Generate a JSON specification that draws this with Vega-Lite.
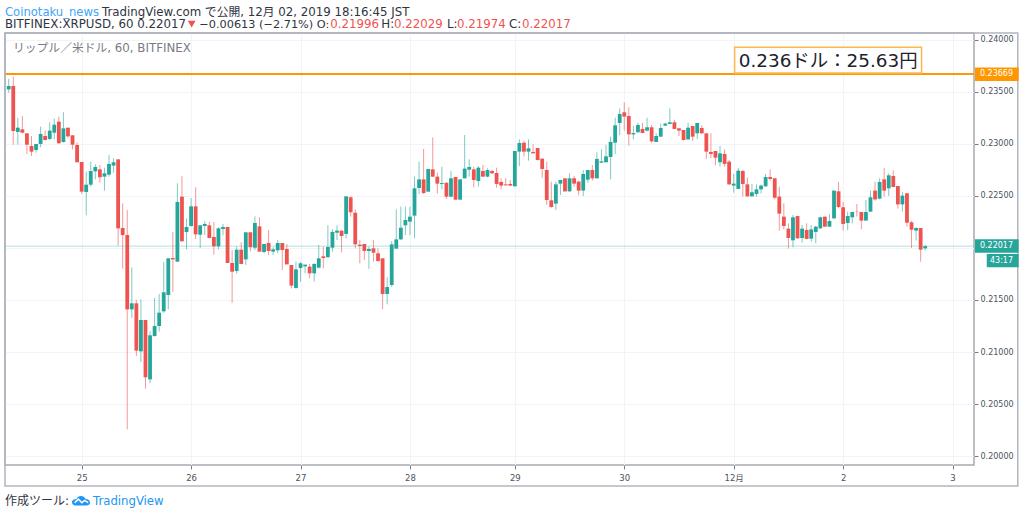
{"$schema":"https://vega.github.io/schema/vega-lite/v6.json","width":969,"height":432,"autosize":"none","padding":{"left":5,"top":33,"right":50,"bottom":49},"background":"white","config":{"view":{"stroke":"#a9abb3","strokeWidth":1.5},"font":"DejaVu Sans, Noto Sans CJK JP"},"datasets":{"candles":[
{"bar":0,"open":0.23522,"high":0.23622,"low":0.23490,"close":0.23554},
{"bar":1,"open":0.23554,"high":0.23644,"low":0.22991,"close":0.23122},
{"bar":2,"open":0.23113,"high":0.23250,"low":0.22991,"close":0.23154},
{"bar":3,"open":0.23138,"high":0.23266,"low":0.23100,"close":0.23106},
{"bar":4,"open":0.23100,"high":0.23100,"low":0.22902,"close":0.22991},
{"bar":5,"open":0.22978,"high":0.23074,"low":0.22882,"close":0.22924},
{"bar":6,"open":0.22940,"high":0.22998,"low":0.22914,"close":0.22998},
{"bar":7,"open":0.22998,"high":0.23164,"low":0.22966,"close":0.23094},
{"bar":8,"open":0.23074,"high":0.23126,"low":0.23030,"close":0.23036},
{"bar":9,"open":0.23046,"high":0.23206,"low":0.23036,"close":0.23126},
{"bar":10,"open":0.23106,"high":0.23241,"low":0.23042,"close":0.23183},
{"bar":11,"open":0.23212,"high":0.23260,"low":0.23004,"close":0.23004},
{"bar":12,"open":0.23017,"high":0.23302,"low":0.23010,"close":0.23148},
{"bar":13,"open":0.23154,"high":0.23154,"low":0.23052,"close":0.23071},
{"bar":14,"open":0.23081,"high":0.23081,"low":0.22946,"close":0.22991},
{"bar":15,"open":0.22988,"high":0.23014,"low":0.22822,"close":0.22822},
{"bar":16,"open":0.22825,"high":0.22825,"low":0.22518,"close":0.22540},
{"bar":17,"open":0.22537,"high":0.22732,"low":0.22313,"close":0.22607},
{"bar":18,"open":0.22607,"high":0.22828,"low":0.22588,"close":0.22738},
{"bar":19,"open":0.22735,"high":0.22802,"low":0.22658,"close":0.22777},
{"bar":20,"open":0.22754,"high":0.22796,"low":0.22626,"close":0.22678},
{"bar":21,"open":0.22684,"high":0.22770,"low":0.22550,"close":0.22716},
{"bar":22,"open":0.22703,"high":0.22892,"low":0.22684,"close":0.22806},
{"bar":23,"open":0.22790,"high":0.22860,"low":0.22722,"close":0.22822},
{"bar":24,"open":0.22850,"high":0.22850,"low":0.22022,"close":0.22188},
{"bar":25,"open":0.22191,"high":0.22428,"low":0.21801,"close":0.22124},
{"bar":26,"open":0.22124,"high":0.22364,"low":0.20258,"close":0.21410},
{"bar":27,"open":0.21410,"high":0.21814,"low":0.21327,"close":0.21468},
{"bar":28,"open":0.21468,"high":0.21500,"low":0.20962,"close":0.21014},
{"bar":29,"open":0.21007,"high":0.21506,"low":0.20905,"close":0.21308},
{"bar":30,"open":0.21308,"high":0.21308,"low":0.20649,"close":0.20758},
{"bar":31,"open":0.20738,"high":0.21199,"low":0.20700,"close":0.21161},
{"bar":32,"open":0.21154,"high":0.21519,"low":0.21148,"close":0.21250},
{"bar":33,"open":0.21250,"high":0.21558,"low":0.21196,"close":0.21378},
{"bar":34,"open":0.21391,"high":0.21865,"low":0.21378,"close":0.21574},
{"bar":35,"open":0.21548,"high":0.21900,"low":0.21410,"close":0.21900},
{"bar":36,"open":0.21903,"high":0.22153,"low":0.21580,"close":0.21890},
{"bar":37,"open":0.21868,"high":0.22620,"low":0.21868,"close":0.22441},
{"bar":38,"open":0.22492,"high":0.22690,"low":0.22063,"close":0.22063},
{"bar":39,"open":0.22153,"high":0.22281,"low":0.21986,"close":0.22201},
{"bar":40,"open":0.22210,"high":0.22479,"low":0.22204,"close":0.22399},
{"bar":41,"open":0.22399,"high":0.22582,"low":0.22086,"close":0.22130},
{"bar":42,"open":0.22127,"high":0.22217,"low":0.22000,"close":0.22217},
{"bar":43,"open":0.22210,"high":0.22258,"low":0.22124,"close":0.22230},
{"bar":44,"open":0.22217,"high":0.22249,"low":0.22092,"close":0.22095},
{"bar":45,"open":0.22105,"high":0.22249,"low":0.21935,"close":0.22015},
{"bar":46,"open":0.22015,"high":0.22198,"low":0.21986,"close":0.22188},
{"bar":47,"open":0.22182,"high":0.22230,"low":0.22124,"close":0.22201},
{"bar":48,"open":0.22201,"high":0.22201,"low":0.21855,"close":0.21855},
{"bar":49,"open":0.21855,"high":0.21980,"low":0.21474,"close":0.21772},
{"bar":50,"open":0.21778,"high":0.22012,"low":0.21756,"close":0.21983},
{"bar":51,"open":0.21983,"high":0.22054,"low":0.21846,"close":0.21846},
{"bar":52,"open":0.21890,"high":0.22150,"low":0.21836,"close":0.22150},
{"bar":53,"open":0.22150,"high":0.22150,"low":0.21967,"close":0.22006},
{"bar":54,"open":0.22002,"high":0.22303,"low":0.21980,"close":0.22239},
{"bar":55,"open":0.22207,"high":0.22294,"low":0.21964,"close":0.21964},
{"bar":56,"open":0.21961,"high":0.22038,"low":0.21948,"close":0.22038},
{"bar":57,"open":0.22047,"high":0.22172,"low":0.21932,"close":0.21970},
{"bar":58,"open":0.21964,"high":0.22006,"low":0.21932,"close":0.21986},
{"bar":59,"open":0.21977,"high":0.22076,"low":0.21948,"close":0.22047},
{"bar":60,"open":0.22047,"high":0.22047,"low":0.21788,"close":0.21980},
{"bar":61,"open":0.21990,"high":0.22038,"low":0.21842,"close":0.21842},
{"bar":62,"open":0.21836,"high":0.21836,"low":0.21612,"close":0.21638},
{"bar":63,"open":0.21615,"high":0.21868,"low":0.21609,"close":0.21794},
{"bar":64,"open":0.21807,"high":0.21868,"low":0.21676,"close":0.21852},
{"bar":65,"open":0.21823,"high":0.21839,"low":0.21756,"close":0.21839},
{"bar":66,"open":0.21820,"high":0.21846,"low":0.21708,"close":0.21756},
{"bar":67,"open":0.21756,"high":0.21852,"low":0.21676,"close":0.21846},
{"bar":68,"open":0.21810,"high":0.22028,"low":0.21804,"close":0.21900},
{"bar":69,"open":0.21919,"high":0.22012,"low":0.21804,"close":0.21903},
{"bar":70,"open":0.21910,"high":0.22217,"low":0.21910,"close":0.22009},
{"bar":71,"open":0.22002,"high":0.22178,"low":0.21964,"close":0.22153},
{"bar":72,"open":0.22146,"high":0.22217,"low":0.22076,"close":0.22166},
{"bar":73,"open":0.22166,"high":0.22166,"low":0.21958,"close":0.22114},
{"bar":74,"open":0.22134,"high":0.22495,"low":0.22092,"close":0.22495},
{"bar":75,"open":0.22486,"high":0.22495,"low":0.22300,"close":0.22342},
{"bar":76,"open":0.22338,"high":0.22370,"low":0.21996,"close":0.22034},
{"bar":77,"open":0.22031,"high":0.22076,"low":0.21852,"close":0.22018},
{"bar":78,"open":0.22038,"high":0.22038,"low":0.21884,"close":0.21970},
{"bar":79,"open":0.21970,"high":0.22012,"low":0.21798,"close":0.21990},
{"bar":80,"open":0.21996,"high":0.22076,"low":0.21868,"close":0.21954},
{"bar":81,"open":0.21948,"high":0.21996,"low":0.21868,"close":0.21874},
{"bar":82,"open":0.21900,"high":0.21900,"low":0.21410,"close":0.21558},
{"bar":83,"open":0.21558,"high":0.21718,"low":0.21458,"close":0.21625},
{"bar":84,"open":0.21644,"high":0.22066,"low":0.21628,"close":0.22034},
{"bar":85,"open":0.21993,"high":0.22370,"low":0.21993,"close":0.22082},
{"bar":86,"open":0.22082,"high":0.22396,"low":0.22076,"close":0.22194},
{"bar":87,"open":0.22217,"high":0.22396,"low":0.22124,"close":0.22268},
{"bar":88,"open":0.22252,"high":0.22396,"low":0.22124,"close":0.22300},
{"bar":89,"open":0.22310,"high":0.22684,"low":0.22092,"close":0.22572},
{"bar":90,"open":0.22575,"high":0.22828,"low":0.22518,"close":0.22658},
{"bar":91,"open":0.22658,"high":0.22950,"low":0.22518,"close":0.22527},
{"bar":92,"open":0.22540,"high":0.22758,"low":0.22540,"close":0.22758},
{"bar":93,"open":0.22754,"high":0.23062,"low":0.22684,"close":0.22684},
{"bar":94,"open":0.22684,"high":0.22722,"low":0.22521,"close":0.22617},
{"bar":95,"open":0.22614,"high":0.22780,"low":0.22562,"close":0.22623},
{"bar":96,"open":0.22626,"high":0.22626,"low":0.22470,"close":0.22492},
{"bar":97,"open":0.22492,"high":0.22738,"low":0.22486,"close":0.22668},
{"bar":98,"open":0.22681,"high":0.22681,"low":0.22463,"close":0.22463},
{"bar":99,"open":0.22463,"high":0.22658,"low":0.22463,"close":0.22658},
{"bar":100,"open":0.22668,"high":0.23084,"low":0.22668,"close":0.22761},
{"bar":101,"open":0.22751,"high":0.22850,"low":0.22684,"close":0.22777},
{"bar":102,"open":0.22754,"high":0.22780,"low":0.22582,"close":0.22652},
{"bar":103,"open":0.22642,"high":0.22786,"low":0.22588,"close":0.22770},
{"bar":104,"open":0.22738,"high":0.22796,"low":0.22684,"close":0.22684},
{"bar":105,"open":0.22684,"high":0.22764,"low":0.22678,"close":0.22748},
{"bar":106,"open":0.22738,"high":0.22748,"low":0.22710,"close":0.22716},
{"bar":107,"open":0.22719,"high":0.22770,"low":0.22578,"close":0.22614},
{"bar":108,"open":0.22633,"high":0.22668,"low":0.22562,"close":0.22598},
{"bar":109,"open":0.22610,"high":0.22668,"low":0.22598,"close":0.22601},
{"bar":110,"open":0.22614,"high":0.22652,"low":0.22598,"close":0.22598},
{"bar":111,"open":0.22591,"high":0.22930,"low":0.22591,"close":0.22930},
{"bar":112,"open":0.22924,"high":0.23042,"low":0.22786,"close":0.23007},
{"bar":113,"open":0.23010,"high":0.23026,"low":0.22876,"close":0.22924},
{"bar":114,"open":0.22924,"high":0.23042,"low":0.22838,"close":0.22956},
{"bar":115,"open":0.22921,"high":0.22994,"low":0.22908,"close":0.22908},
{"bar":116,"open":0.22959,"high":0.22959,"low":0.22838,"close":0.22844},
{"bar":117,"open":0.22857,"high":0.22857,"low":0.22674,"close":0.22758},
{"bar":118,"open":0.22748,"high":0.22828,"low":0.22412,"close":0.22460},
{"bar":119,"open":0.22457,"high":0.22636,"low":0.22386,"close":0.22393},
{"bar":120,"open":0.22425,"high":0.22636,"low":0.22364,"close":0.22610},
{"bar":121,"open":0.22617,"high":0.22652,"low":0.22508,"close":0.22652},
{"bar":122,"open":0.22668,"high":0.22668,"low":0.22537,"close":0.22543},
{"bar":123,"open":0.22543,"high":0.22716,"low":0.22537,"close":0.22668},
{"bar":124,"open":0.22668,"high":0.22690,"low":0.22588,"close":0.22617},
{"bar":125,"open":0.22636,"high":0.22646,"low":0.22505,"close":0.22550},
{"bar":126,"open":0.22550,"high":0.22748,"low":0.22498,"close":0.22710},
{"bar":127,"open":0.22655,"high":0.22748,"low":0.22626,"close":0.22748},
{"bar":128,"open":0.22748,"high":0.22796,"low":0.22646,"close":0.22668},
{"bar":129,"open":0.22668,"high":0.22918,"low":0.22668,"close":0.22854},
{"bar":130,"open":0.22818,"high":0.22946,"low":0.22818,"close":0.22831},
{"bar":131,"open":0.22822,"high":0.22988,"low":0.22818,"close":0.22879},
{"bar":132,"open":0.22873,"high":0.23068,"low":0.22658,"close":0.23017},
{"bar":133,"open":0.23010,"high":0.23250,"low":0.22902,"close":0.23177},
{"bar":134,"open":0.23199,"high":0.23340,"low":0.23084,"close":0.23286},
{"bar":135,"open":0.23302,"high":0.23398,"low":0.23126,"close":0.23260},
{"bar":136,"open":0.23266,"high":0.23350,"low":0.22982,"close":0.23090},
{"bar":137,"open":0.23090,"high":0.23174,"low":0.23042,"close":0.23103},
{"bar":138,"open":0.23110,"high":0.23202,"low":0.23106,"close":0.23180},
{"bar":139,"open":0.23142,"high":0.23202,"low":0.23103,"close":0.23103},
{"bar":140,"open":0.23126,"high":0.23250,"low":0.23116,"close":0.23158},
{"bar":141,"open":0.23158,"high":0.23180,"low":0.23010,"close":0.23023},
{"bar":142,"open":0.23017,"high":0.23100,"low":0.23017,"close":0.23074},
{"bar":143,"open":0.23068,"high":0.23193,"low":0.23062,"close":0.23151},
{"bar":144,"open":0.23174,"high":0.23202,"low":0.23170,"close":0.23193},
{"bar":145,"open":0.23190,"high":0.23340,"low":0.23186,"close":0.23206},
{"bar":146,"open":0.23206,"high":0.23228,"low":0.23138,"close":0.23142},
{"bar":147,"open":0.23148,"high":0.23148,"low":0.23074,"close":0.23126},
{"bar":148,"open":0.23132,"high":0.23132,"low":0.23030,"close":0.23036},
{"bar":149,"open":0.23042,"high":0.23202,"low":0.23036,"close":0.23154},
{"bar":150,"open":0.23170,"high":0.23170,"low":0.23026,"close":0.23068},
{"bar":151,"open":0.23100,"high":0.23199,"low":0.23046,"close":0.23199},
{"bar":152,"open":0.23151,"high":0.23177,"low":0.23094,"close":0.23100},
{"bar":153,"open":0.23100,"high":0.23100,"low":0.22854,"close":0.22924},
{"bar":154,"open":0.22921,"high":0.23100,"low":0.22863,"close":0.22902},
{"bar":155,"open":0.22930,"high":0.22930,"low":0.22793,"close":0.22866},
{"bar":156,"open":0.22822,"high":0.22978,"low":0.22780,"close":0.22908},
{"bar":157,"open":0.22902,"high":0.22946,"low":0.22780,"close":0.22806},
{"bar":158,"open":0.22828,"high":0.22844,"low":0.22604,"close":0.22610},
{"bar":159,"open":0.22598,"high":0.22710,"low":0.22530,"close":0.22617},
{"bar":160,"open":0.22566,"high":0.22767,"low":0.22566,"close":0.22742},
{"bar":161,"open":0.22738,"high":0.22748,"low":0.22492,"close":0.22614},
{"bar":162,"open":0.22610,"high":0.22678,"low":0.22492,"close":0.22495},
{"bar":163,"open":0.22495,"high":0.22614,"low":0.22492,"close":0.22534},
{"bar":164,"open":0.22518,"high":0.22610,"low":0.22492,"close":0.22562},
{"bar":165,"open":0.22562,"high":0.22610,"low":0.22524,"close":0.22598},
{"bar":166,"open":0.22591,"high":0.22710,"low":0.22588,"close":0.22681},
{"bar":167,"open":0.22681,"high":0.22754,"low":0.22646,"close":0.22662},
{"bar":168,"open":0.22668,"high":0.22668,"low":0.22466,"close":0.22482},
{"bar":169,"open":0.22492,"high":0.22588,"low":0.22166,"close":0.22329},
{"bar":170,"open":0.22300,"high":0.22428,"low":0.22178,"close":0.22210},
{"bar":171,"open":0.22185,"high":0.22236,"low":0.21993,"close":0.22095},
{"bar":172,"open":0.22073,"high":0.22316,"low":0.22006,"close":0.22294},
{"bar":173,"open":0.22306,"high":0.22306,"low":0.22089,"close":0.22092},
{"bar":174,"open":0.22095,"high":0.22220,"low":0.22050,"close":0.22185},
{"bar":175,"open":0.22172,"high":0.22236,"low":0.22082,"close":0.22086},
{"bar":176,"open":0.22089,"high":0.22220,"low":0.22060,"close":0.22178},
{"bar":177,"open":0.22153,"high":0.22210,"low":0.22044,"close":0.22204},
{"bar":178,"open":0.22188,"high":0.22300,"low":0.22182,"close":0.22294},
{"bar":179,"open":0.22300,"high":0.22300,"low":0.22204,"close":0.22204},
{"bar":180,"open":0.22204,"high":0.22322,"low":0.22204,"close":0.22258},
{"bar":181,"open":0.22284,"high":0.22550,"low":0.22274,"close":0.22550},
{"bar":182,"open":0.22543,"high":0.22636,"low":0.22380,"close":0.22393},
{"bar":183,"open":0.22390,"high":0.22444,"low":0.22166,"close":0.22230},
{"bar":184,"open":0.22239,"high":0.22348,"low":0.22172,"close":0.22306},
{"bar":185,"open":0.22294,"high":0.22345,"low":0.22236,"close":0.22345},
{"bar":186,"open":0.22348,"high":0.22422,"low":0.22300,"close":0.22345},
{"bar":187,"open":0.22345,"high":0.22345,"low":0.22178,"close":0.22262},
{"bar":188,"open":0.22262,"high":0.22460,"low":0.22262,"close":0.22345},
{"bar":189,"open":0.22348,"high":0.22550,"low":0.22348,"close":0.22486},
{"bar":190,"open":0.22550,"high":0.22636,"low":0.22454,"close":0.22466},
{"bar":191,"open":0.22473,"high":0.22668,"low":0.22466,"close":0.22633},
{"bar":192,"open":0.22658,"high":0.22767,"low":0.22492,"close":0.22550},
{"bar":193,"open":0.22572,"high":0.22716,"low":0.22498,"close":0.22697},
{"bar":194,"open":0.22690,"high":0.22742,"low":0.22582,"close":0.22585},
{"bar":195,"open":0.22594,"high":0.22594,"low":0.22377,"close":0.22418},
{"bar":196,"open":0.22418,"high":0.22534,"low":0.22348,"close":0.22502},
{"bar":197,"open":0.22524,"high":0.22524,"low":0.22204,"close":0.22242},
{"bar":198,"open":0.22246,"high":0.22258,"low":0.21999,"close":0.22175},
{"bar":199,"open":0.22166,"high":0.22198,"low":0.22070,"close":0.22191},
{"bar":200,"open":0.22191,"high":0.22191,"low":0.21868,"close":0.21983},
{"bar":201,"open":0.21996,"high":0.22029,"low":0.21974,"close":0.22017}
]},"layer":[
{"data":{"name":"candles"},"mark":{"type":"rule","size":1,"opacity":0.6},"encoding":{"x":{"field":"bar","type":"quantitative","scale":{"domain":[-0.81,211.7],"nice":false,"zero":false,"padding":0},"axis":{"values":[16,40,64,88,111,135,159,183,207],"title":null,"labelExpr":"{'16':'25','40':'26','64':'27','88':'28','111':'29','135':'30','159':'12月','183':'2','207':'3'}[''+datum.value]","domain":false,"tickSize":4,"tickColor":"#787b86","gridColor":"#f0f3fa","grid":true,"labelFontSize":8.5,"labelColor":"#4c525e","labelPadding":4,"labelFont":"DejaVu Sans, Noto Sans CJK JP"}},"y":{"field":"low","type":"quantitative","scale":{"domain":[0.19916,0.24063],"nice":false,"zero":false},"axis":{"orient":"right","values":[0.2,0.205,0.21,0.215,0.22,0.225,0.23,0.235,0.24],"format":".5f","labelExpr":"abs(datum.value-0.22)<0.0001?'':format(datum.value,'.5f')","title":null,"domain":false,"tickSize":4,"tickColor":"#787b86","gridColor":"#f0f3fa","grid":true,"labelFontSize":8,"labelColor":"#4c525e","labelPadding":2,"labelFont":"DejaVu Sans"}},"y2":{"field":"high"},"color":{"condition":{"test":"datum.close>=datum.open","value":"#26a69a"},"value":"#ef5350"}}},
{"data":{"name":"candles"},"mark":{"type":"bar","size":3.8},"encoding":{"x":{"field":"bar","type":"quantitative"},"y":{"field":"open","type":"quantitative"},"y2":{"field":"close"},"color":{"condition":{"test":"datum.close>=datum.open","value":"#26a69a"},"value":"#ef5350"}}},
{"data":{"values":[{}]},"mark":{"type":"rule","color":"#ff9800","size":2},"encoding":{"y":{"datum":0.23669}}},
{"data":{"values":[{}]},"mark":{"type":"rule","color":"#26a69a","size":1,"opacity":0.35},"encoding":{"y":{"datum":0.22017}}},
{"data":{"values":[{}]},"mark":{"type":"rect","fill":null,"stroke":"#b2b5be","strokeWidth":1.5},"encoding":{"x":{"datum":-0.81},"x2":{"datum":221.3},"y":{"datum":0.24063},"y2":{"datum":0.19715}}},
{"data":{"values":[{}]},"mark":{"type":"rect","fill":"#ff9800"},"encoding":{"x":{"datum":211.9},"x2":{"datum":221.5},"y":{"datum":0.23732},"y2":{"datum":0.23603}}},
{"data":{"values":[{}]},"mark":{"type":"rect","fill":"#26a69a"},"encoding":{"x":{"datum":211.9},"x2":{"datum":221.5},"y":{"datum":0.22083},"y2":{"datum":0.21954}}},
{"data":{"values":[{}]},"mark":{"type":"rect","fill":"#26a69a"},"encoding":{"x":{"datum":214.5},"x2":{"datum":221.5},"y":{"datum":0.21942},"y2":{"datum":0.21814}}},
{"data":{"values":[{}]},"mark":{"type":"rect","fill":"white","stroke":"#ffb74d","strokeWidth":1.5},"encoding":{"x":{"datum":159.2},"x2":{"datum":200.2},"y":{"datum":0.23926},"y2":{"datum":0.23679}}},
{"data":{"values":[{}]},"mark":{"type":"text","align":"left","baseline":"alphabetic","fontSize":18.4,"color":"#1e222d"},"encoding":{"x":{"datum":160.1},"y":{"datum":0.23737},"text":{"value":"0.236ドル：25.63円"}}},
{"data":{"values":[{}]},"mark":{"type":"text","align":"left","baseline":"middle","fontSize":8,"color":"white"},"encoding":{"x":{"datum":213.0},"y":{"datum":0.23669},"text":{"value":"0.23669"}}},
{"data":{"values":[{}]},"mark":{"type":"text","align":"left","baseline":"middle","fontSize":8,"color":"white"},"encoding":{"x":{"datum":213.0},"y":{"datum":0.22018},"text":{"value":"0.22017"}}},
{"data":{"values":[{}]},"mark":{"type":"text","align":"left","baseline":"middle","fontSize":8,"color":"white"},"encoding":{"x":{"datum":215.2},"y":{"datum":0.21878},"text":{"value":"43:17"}}},
{"data":{"values":[{}]},"mark":{"type":"text","align":"left","baseline":"alphabetic","fontSize":11.8,"color":"#787b86"},"encoding":{"x":{"datum":0.94},"y":{"datum":0.23881},"text":{"value":"リップル／米ドル, 60, BITFINEX"}}},
{"data":{"values":[{}]},"mark":{"type":"text","align":"left","baseline":"alphabetic","fontSize":11.6,"color":"#42a5f5"},"encoding":{"x":{"datum":-0.81},"y":{"datum":0.24227},"text":{"value":"Coinotaku_news"}}},
{"data":{"values":[{}]},"mark":{"type":"text","align":"left","baseline":"alphabetic","fontSize":11.8,"color":"#30343f"},"encoding":{"x":{"datum":20.46},"y":{"datum":0.24227},"text":{"value":"TradingView.com で公開, 12月 02, 2019 18:16:45 JST"}}},
{"data":{"values":[{}]},"mark":{"type":"text","align":"left","baseline":"alphabetic","fontSize":11.8,"color":"#30343f"},"encoding":{"x":{"datum":-0.81},"y":{"datum":0.24111},"text":{"value":"BITFINEX:XRPUSD, 60 0.22017"}}},
{"data":{"values":[{}]},"mark":{"type":"point","shape":"triangle-down","filled":true,"size":60,"color":"#ef5350","opacity":1},"encoding":{"x":{"datum":40.13},"y":{"datum":0.24148}}},
{"data":{"values":[{}]},"mark":{"type":"text","align":"left","baseline":"alphabetic","fontSize":11.3,"color":"#30343f"},"encoding":{"x":{"datum":41.8},"y":{"datum":0.24111},"text":{"value":"−0.00613 (−2.71%) O:"}}},
{"data":{"values":[{}]},"mark":{"type":"text","align":"left","baseline":"alphabetic","fontSize":11.8,"color":"#ef5350"},"encoding":{"x":{"datum":70.5},"y":{"datum":0.24111},"text":{"value":"0.21996"}}},
{"data":{"values":[{}]},"mark":{"type":"text","align":"left","baseline":"alphabetic","fontSize":11.8,"color":"#30343f"},"encoding":{"x":{"datum":81.71},"y":{"datum":0.24111},"text":{"value":"H:"}}},
{"data":{"values":[{}]},"mark":{"type":"text","align":"left","baseline":"alphabetic","fontSize":11.8,"color":"#ef5350"},"encoding":{"x":{"datum":84.5},"y":{"datum":0.24111},"text":{"value":"0.22029"}}},
{"data":{"values":[{}]},"mark":{"type":"text","align":"left","baseline":"alphabetic","fontSize":11.8,"color":"#30343f"},"encoding":{"x":{"datum":96.12},"y":{"datum":0.24111},"text":{"value":"L:"}}},
{"data":{"values":[{}]},"mark":{"type":"text","align":"left","baseline":"alphabetic","fontSize":11.8,"color":"#ef5350"},"encoding":{"x":{"datum":98.3},"y":{"datum":0.24111},"text":{"value":"0.21974"}}},
{"data":{"values":[{}]},"mark":{"type":"text","align":"left","baseline":"alphabetic","fontSize":11.8,"color":"#30343f"},"encoding":{"x":{"datum":109.7},"y":{"datum":0.24111},"text":{"value":"C:"}}},
{"data":{"values":[{}]},"mark":{"type":"text","align":"left","baseline":"alphabetic","fontSize":11.8,"color":"#ef5350"},"encoding":{"x":{"datum":112.57},"y":{"datum":0.24111},"text":{"value":"0.22017"}}},
{"data":{"values":[{}]},"mark":{"type":"text","align":"left","baseline":"alphabetic","fontSize":12,"color":"#30343f"},"encoding":{"x":{"datum":-0.81},"y":{"datum":0.19532},"text":{"value":"作成ツール:"}}},
{"data":{"values":[{}]},"mark":{"type":"point","filled":true,"opacity":1,"size":324,"color":"#2196f3","shape":"M-1,0.25 C-1,0 -0.7,-0.1 -0.5,-0.1 C-0.35,-0.55 0.35,-0.55 0.5,-0.1 C0.8,-0.1 1,0.05 1,0.3 C1,0.5 0.8,0.6 0.6,0.6 L-0.6,0.6 C-0.85,0.6 -1,0.45 -1,0.25 Z"},"encoding":{"x":{"datum":15.86},"y":{"datum":0.1958}}},
{"data":{"values":[{}]},"mark":{"type":"point","filled":false,"opacity":1,"size":324,"stroke":"white","strokeWidth":1.5,"shape":"M-0.7,0.3 L-0.3,-0.1 L0.1,0.3 L0.4,0.05 L0.8,0.3"},"encoding":{"x":{"datum":15.86},"y":{"datum":0.1958}}},
{"data":{"values":[{}]},"mark":{"type":"text","align":"left","baseline":"alphabetic","fontSize":11.7,"color":"#2196f3"},"encoding":{"x":{"datum":18.49},"y":{"datum":0.19532},"text":{"value":"TradingView"}}}
]}
